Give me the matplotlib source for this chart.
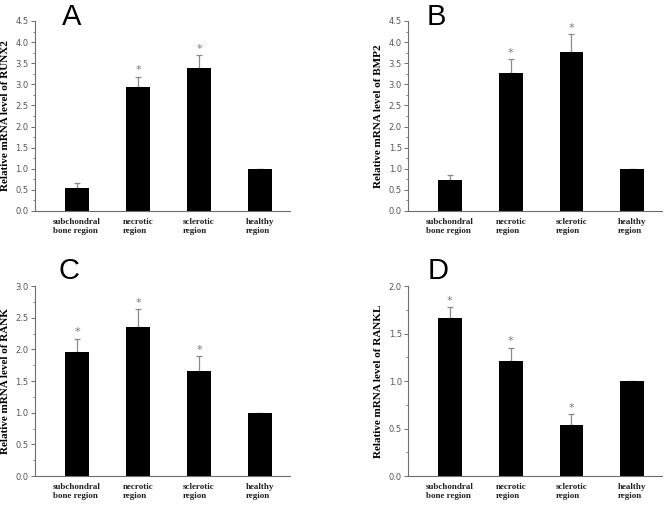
import matplotlib.pyplot as plt
import numpy as np
from matplotlib.ticker import MultipleLocator

regions = ['subchondral\nbone region', 'necrotic\nregion', 'sclerotic\nregion', 'healthy\nregion']

runx2 = [0.54, 2.93, 3.38, 1.0]
runx2_err = [0.13, 0.25, 0.31, 0.0]
runx2_sig = [False, True, True, False]

bmp2 = [0.74, 3.26, 3.77, 1.0]
bmp2_err = [0.12, 0.34, 0.41, 0.0]
bmp2_sig = [False, True, True, False]

rank = [1.96, 2.36, 1.66, 1.0]
rank_err = [0.21, 0.27, 0.23, 0.0]
rank_sig = [True, True, True, False]

rankl = [1.66, 1.21, 0.54, 1.0]
rankl_err = [0.12, 0.14, 0.11, 0.0]
rankl_sig = [True, True, True, False]

panels = [
    ('A', 'Relative mRNA level of RUNX2', runx2, runx2_err, runx2_sig, 4.5),
    ('B', 'Relative mRNA level of BMP2', bmp2, bmp2_err, bmp2_sig, 4.5),
    ('C', 'Relative mRNA level of RANK', rank, rank_err, rank_sig, 3.0),
    ('D', 'Relative mRNA level of RANKL', rankl, rankl_err, rankl_sig, 2.0),
]

# axes boxes (left, bottom, width, height) and letter spots
boxes = [(0.052, 0.5855, 0.381, 0.3733), (0.609, 0.5855, 0.379, 0.3733),
         (0.052, 0.0648, 0.381, 0.3733), (0.609, 0.0648, 0.379, 0.3733)]
letters = [(0.093, 0.995), (0.637, 0.995), (0.087, 0.495), (0.638, 0.495)]

grey = '#6e6e6e'
fig = plt.figure(figsize=(6.70, 5.09), dpi=100)

for (letter, ylab, vals, errs, sig, ymax), box, lpos in zip(panels, boxes, letters):
    ax = fig.add_axes(box)
    x = np.arange(len(vals))
    ax.bar(x, vals, width=0.39, color='black', zorder=2)
    ax.errorbar(x, vals, yerr=[np.zeros(len(errs)), errs], fmt='none',
                ecolor='#8a8a8a', elinewidth=0.9, capsize=2.5, capthick=0.9, zorder=1)
    for xi, v, e, s in zip(x, vals, errs, sig):
        if s:
            ax.annotate('*', (xi, v + e), xytext=(0, 1), textcoords='offset points',
                        ha='center', va='bottom', fontsize=8, color='#777777',
                        family='DejaVu Sans')
    ax.set_xlim(-0.69, 3.49)
    ax.set_ylim(0, ymax)
    ax.yaxis.set_major_locator(MultipleLocator(0.5))
    ax.yaxis.set_minor_locator(MultipleLocator(0.25))
    ax.set_yticklabels(['%.1f' % t for t in ax.get_yticks()])
    ax.tick_params(axis='y', which='major', length=3, width=0.7, color=grey,
                   labelsize=6, labelcolor='#555555', pad=1.5)
    ax.tick_params(axis='y', which='minor', length=1.8, width=0.6, color=grey)
    ax.set_xticks(x)
    ax.set_xticklabels(regions, fontsize=6.5, fontweight='bold', family='Liberation Serif',
                       multialignment='left', color='#222222')
    ax.tick_params(axis='x', length=0, pad=5)
    for sp in ['top', 'right']:
        ax.spines[sp].set_visible(False)
    for sp in ['left', 'bottom']:
        ax.spines[sp].set_color(grey)
        ax.spines[sp].set_linewidth(0.8)
    ax.set_ylabel(ylab, fontsize=8, fontweight='bold', family='Liberation Serif', labelpad=4)
    fig.text(lpos[0], lpos[1], letter, fontsize=21, va='top', ha='left',
             family='Liberation Sans')

fig.savefig('out.png', dpi=100, facecolor='white')
